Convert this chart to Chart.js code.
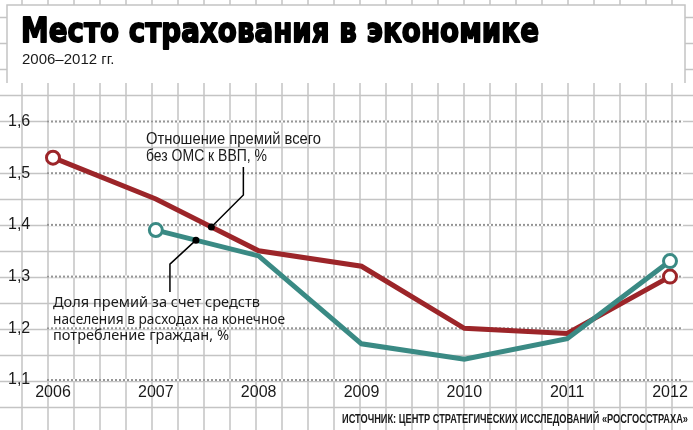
<!DOCTYPE html>
<html lang="ru">
<head>
<meta charset="utf-8">
<script src="https://cdn.jsdelivr.net/npm/chart.js@4.4.0/dist/chart.umd.min.js"></script>
<style>
    html, body { margin: 0; padding: 0; background: #fff; overflow: hidden; }
    canvas { display: block; }
</style>
</head>
<body>
<canvas id="myChart" width="693" height="430"></canvas>
<script>
const years = ['2006', '2007', '2008', '2009', '2010', '2011', '2012']
// Отношение премий всего без ОМС к ВВП, %
const premiumsToGdp = [1.53, 1.45, 1.35, 1.32, 1.20, 1.19, 1.30]
// Доля премий за счет средств населения в расходах на конечное потребление граждан, %
const householdShare = [null, 1.39, 1.34, 1.17, 1.14, 1.18, 1.33]
const yTickLabels = ['1,1', '1,2', '1,3', '1,4', '1,5', '1,6']

const titleText = 'Место страхования в экономике'
const subtitleText = '2006–2012 гг.'
const redNote = ['Отношение премий всего', 'без ОМС к ВВП, %']
const tealNote = ['Доля премий за счет средств', 'населения в расходах на конечное', 'потребление граждан, %']
const sourceText = 'ИСТОЧНИК: ЦЕНТР СТРАТЕГИЧЕСКИХ ИССЛЕДОВАНИЙ «РОСГОССТРАХА»'

const RED = '#9c2529'
const TEAL = '#3a8a84'
const INK = '#1a1a1a'
const NARROW = '"Liberation Sans Narrow", "Liberation Sans", sans-serif'

// кружки только на концах линий
const endRadius = (ctx) => {
    const d = ctx.dataset.data
    const first = d.findIndex(v => v !== null)
    return (ctx.dataIndex === first || ctx.dataIndex === d.length - 1) ? 6.5 : 0
}

// фон "в клетку", плашка заголовка
const paper = {
    id: 'paper',
    beforeDraw(chart) {
        const c = chart.ctx, w = chart.width, h = chart.height
        c.save()
        c.fillStyle = '#fff'
        c.fillRect(0, 0, w, h)
        c.strokeStyle = '#c4c4c4'
        c.lineWidth = 1.5
        c.beginPath()
        for (let x = 22; x < w; x += 26) { c.moveTo(x, 0); c.lineTo(x, h) }
        for (let y = 17.5; y < h; y += 26) { c.moveTo(0, y); c.lineTo(w, y) }
        c.stroke()

        c.fillStyle = '#fff'
        c.fillRect(7, 5, 678, 78)
        c.beginPath()
        c.moveTo(7, 83); c.lineTo(7, 5); c.lineTo(685, 5); c.lineTo(685, 83)
        c.stroke()

        c.fillStyle = '#000'
        c.strokeStyle = '#000'
        c.lineWidth = 1.8
        c.lineJoin = 'round'
        c.textBaseline = 'alphabetic'
        c.font = 'bold 34px "DejaVu Sans", sans-serif'
        c.fillText(titleText, 21, 42, 518)
        c.strokeText(titleText, 21, 42, 518)
        c.fillStyle = INK
        c.font = '15px ' + NARROW
        c.fillText(subtitleText, 22, 64, 96)

        c.font = 'bold 13px ' + NARROW
        c.textAlign = 'right'
        c.fillText(sourceText, 688, 423, 346)
        c.restore()
    },
    beforeDatasetsDraw(chart) {
        const c = chart.ctx, y = chart.scales.y
        c.save()
        y.ticks.forEach(t => {
            const py = y.getPixelForValue(t.value)
            c.strokeStyle = '#fff'
            c.lineWidth = 2
            c.setLineDash([])
            c.beginPath(); c.moveTo(47, py); c.lineTo(683, py); c.stroke()
            c.strokeStyle = '#959595'
            c.setLineDash([2, 2])
            c.beginPath(); c.moveTo(47, py); c.lineTo(683, py); c.stroke()
        })
        c.restore()
    },
    afterDatasetsDraw(chart) {
        const c = chart.ctx
        const lerp = (meta, i, t) => {
            const a = meta.data[i], b = meta.data[i + 1]
            return { x: a.x + (b.x - a.x) * t, y: a.y + (b.y - a.y) * t }
        }
        const r = lerp(chart.getDatasetMeta(1), 1, 0.54)
        const g = lerp(chart.getDatasetMeta(0), 1, 0.39)
        c.save()
        c.strokeStyle = '#000'
        c.fillStyle = '#000'
        c.lineWidth = 1.5
        c.beginPath()
        c.moveTo(r.x, r.y); c.lineTo(r.x + 32, r.y - 32); c.lineTo(r.x + 32, 167)
        c.moveTo(g.x, g.y); c.lineTo(g.x - 26, g.y + 24); c.lineTo(g.x - 26, 292)
        c.stroke()
        c.beginPath(); c.arc(r.x, r.y, 3.5, 0, Math.PI * 2); c.fill()
        c.beginPath(); c.arc(g.x, g.y, 3.5, 0, Math.PI * 2); c.fill()

        c.fillStyle = INK
        c.textBaseline = 'alphabetic'
        c.font = '17px ' + NARROW
        c.fillText(redNote[0], 146, 144, 175)
        c.fillText(redNote[1], 146, 161, 121)
        c.font = '15px "Noto Sans", sans-serif'
        c.fillText(tealNote[0], 53, 307, 207)
        c.fillText(tealNote[1], 53, 323.5, 232)
        c.fillText(tealNote[2], 53, 339.5, 176)
        c.restore()
    }
}

let myChart = new Chart(document.getElementById('myChart'), {
    type: 'line',
    data: {
        labels: years,
        datasets: [{
            label: tealNote.join(' '),
            data: householdShare,
            borderColor: TEAL,
            borderWidth: 5,
            pointRadius: endRadius,
            pointBorderWidth: 3,
            pointBorderColor: TEAL,
            pointBackgroundColor: '#fff',
            clip: false
        }, {
            label: redNote.join(' '),
            data: premiumsToGdp,
            borderColor: RED,
            borderWidth: 5,
            pointRadius: endRadius,
            pointBorderWidth: 3,
            pointBorderColor: RED,
            pointBackgroundColor: '#fff',
            clip: false
        }]
    },
    options: {
        responsive: false,
        animation: false,
        devicePixelRatio: 1,
        events: [],
        layout: { padding: { left: 8, right: 23, top: 121.5, bottom: 0 } },
        plugins: { legend: { display: false }, tooltip: { enabled: false } },
        scales: {
            x: {
                offset: false,
                grid: { display: false, drawTicks: false },
                border: { display: false },
                ticks: { font: { family: NARROW, size: 16 }, color: INK, padding: 3, maxRotation: 0, autoSkip: false },
                afterFit: s => { s.height = 50 }
            },
            y: {
                min: 1.1,
                max: 1.6,
                grid: { display: false, drawTicks: false },
                border: { display: false },
                ticks: {
                    stepSize: 0.1,
                    crossAlign: 'far',
                    font: { family: NARROW, size: 16 },
                    color: INK,
                    callback: (v, i) => yTickLabels[i]
                },
                afterFit: s => { s.width = 45 }
            }
        }
    },
    plugins: [paper]
})
</script>
</body>
</html>
